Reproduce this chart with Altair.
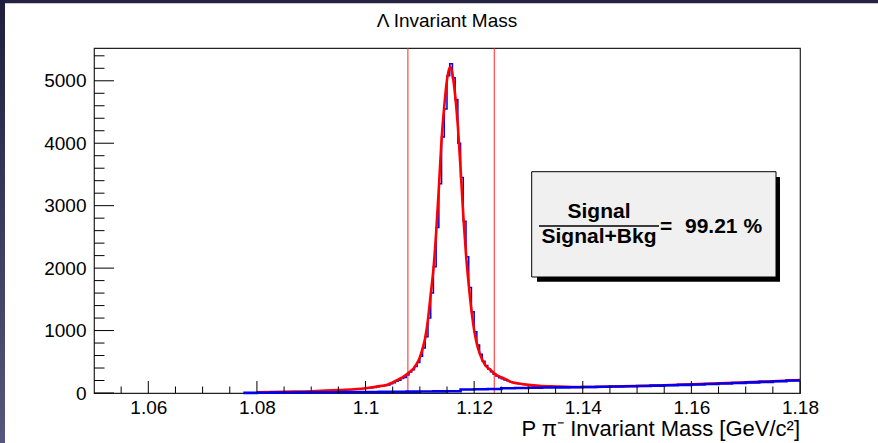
import altair as alt
import pandas as pd

# ---------------- data ----------------
X_DOMAIN = [1.05, 1.18]
Y_DOMAIN = [0, 5525]

x_major = [1.06, 1.08, 1.10, 1.12, 1.14, 1.16, 1.18]
y_major = [0, 1000, 2000, 3000, 4000, 5000]
x_minor_step = 0.005
y_minor_step = 200

# signal window (thin red vertical lines)
window_lo, window_hi = 1.1078, 1.1237

# data histogram (blue), 0.0005 GeV bins starting at 1.100
hist_start, hist_width = 1.1000, 0.0005
hist_counts = [78, 82, 86, 90, 100, 108, 112, 122, 130, 148,
               165, 190, 205, 232, 250, 290, 335, 372, 425, 490,
               590, 720, 900, 1200, 1600, 2020, 2650, 3350, 4100, 4550,
               5080, 5272, 5050, 4700, 4000, 3450, 2750, 2180, 1690, 1300,
               980, 770, 620, 510, 440, 385, 340, 300, 272, 245,
               230, 208, 198, 180, 168, 160, 150, 145, 138, 132,
               128, 122, 118, 116, 112, 110, 106, 104, 102, 100]

# background histogram (thick blue), 0.0025 GeV bins starting at 1.0775
bkg_start, bkg_width = 1.0775, 0.0025
bkg_counts = [2, 4, 6, 8, 10, 11, 12, 14, 15, 16,
              18, 20, 22, 24, 26, 28, 55, 60, 65, 75,
              80, 85, 88, 90, 92, 95, 100, 103, 108, 112,
              118, 123, 130, 137, 145, 152, 160, 170, 178, 188, 200]

# total fit (red curve)
fit_x = [1.080, 1.085, 1.090, 1.095, 1.100, 1.102, 1.104, 1.105, 1.106, 1.107,
         1.108, 1.109, 1.110, 1.1105, 1.111, 1.1115, 1.112, 1.1125, 1.113, 1.1135,
         1.114, 1.1145, 1.115, 1.1156, 1.116, 1.1165, 1.117, 1.1175, 1.118, 1.1185,
         1.119, 1.1195, 1.120, 1.1205, 1.121, 1.122, 1.123, 1.124, 1.125, 1.126,
         1.127, 1.128, 1.130, 1.132, 1.135, 1.140, 1.145, 1.150, 1.155, 1.160,
         1.165, 1.170, 1.175, 1.180]
fit_y = [12, 20, 28, 46, 76, 103, 132, 170, 215, 262,
         328, 410, 570, 710, 890, 1180, 1580, 1980, 2565, 3285,
         4055, 4595, 5015, 5228, 5110, 4772, 4273, 3593, 2845, 2215,
         1736, 1327, 1007, 787, 638, 450, 370, 295, 252, 214,
         170, 155, 130, 115, 105, 95, 102, 112, 125, 138,
         155, 170, 188, 209]

title_text = "Λ Invariant Mass"
x_title_text = "P π⁻ Invariant Mass [GeV/c²]"
ratio_num = "Signal"
ratio_den = "Signal+Bkg"
ratio_val = "99.21 %"

# ---------------- layout ----------------
W, H = 706, 345
FONT = "Liberation Sans"

def step_frame(start, width, counts):
    edges = [round(start + width * i, 5) for i in range(len(counts) + 1)]
    vals = list(counts) + [counts[-1]]
    return pd.DataFrame({"x": edges, "y": vals})

xs = alt.Scale(domain=X_DOMAIN, nice=False, zero=False)
ys = alt.Scale(domain=Y_DOMAIN, nice=False, zero=False)

XAXIS = alt.Axis(values=x_major, labelExpr="format(datum.value, '.2~f')",
                 ticks=False, domain=False, grid=False, title=None,
                 labelFontSize=19, labelPadding=5, labelFont=FONT,
                 labelColor="#000", labelFlush=False)
YAXIS = alt.Axis(values=y_major, format="d", ticks=False, domain=False,
                 grid=False, title=None, labelFontSize=19, labelPadding=8,
                 labelFont=FONT, labelColor="#000")

def X(field):
    return alt.X(field, scale=xs, axis=XAXIS)

def Y(field):
    return alt.Y(field, scale=ys, axis=YAXIS)

n_xmin = int(round((X_DOMAIN[1] - X_DOMAIN[0]) / x_minor_step))
x_minor = [round(X_DOMAIN[0] + x_minor_step * i, 4) for i in range(1, n_xmin)]
x_minor = [v for v in x_minor if all(abs(v - m) > 1e-6 for m in x_major)]
y_minor = [v for v in range(y_minor_step, Y_DOMAIN[1], y_minor_step) if v % 1000]

one = pd.DataFrame({"a": [0]})

# page strips
top_strip = alt.Chart(one).mark_rect(color="#23223f").encode(
    x=alt.value(-94), x2=alt.value(W + 78), y=alt.value(-48), y2=alt.value(-44.7))
left_strip = alt.Chart(one).mark_rect(
    color=alt.LinearGradient(gradient="linear",
                             stops=[alt.GradientStop(color="#1f1f3d", offset=0),
                                    alt.GradientStop(color="#57577d", offset=1)],
                             x1=0, x2=0, y1=0, y2=1)).encode(
    x=alt.value(-94), x2=alt.value(-89), y=alt.value(-48), y2=alt.value(H + 50))

hist = alt.Chart(step_frame(hist_start, hist_width, hist_counts)).mark_line(
    interpolate="step-after", color="#0000ee", strokeWidth=1.5).encode(
    x=X("x:Q"), y=Y("y:Q"))

# inside ticks
xmaj = alt.Chart(pd.DataFrame({"x": x_major})).mark_rule(color="#000", strokeWidth=1).encode(
    x=X("x:Q"), y=alt.value(H), y2=alt.value(H - 12))
xmin = alt.Chart(pd.DataFrame({"x": x_minor})).mark_rule(color="#000", strokeWidth=1).encode(
    x=X("x:Q"), y=alt.value(H), y2=alt.value(H - 6.5))
ymaj = alt.Chart(pd.DataFrame({"y": y_major})).mark_rule(color="#000", strokeWidth=1).encode(
    y=Y("y:Q"), x=alt.value(0), x2=alt.value(20))
ymin = alt.Chart(pd.DataFrame({"y": y_minor})).mark_rule(color="#000", strokeWidth=1).encode(
    y=Y("y:Q"), x=alt.value(0), x2=alt.value(10.5))

window = alt.Chart(pd.DataFrame({"x": [window_lo, window_hi]})).mark_rule(
    color="#ff2020", strokeWidth=1).encode(
    x=X("x:Q"), y=alt.value(0), y2=alt.value(H))

fit = alt.Chart(pd.DataFrame({"x": fit_x, "y": fit_y})).mark_line(
    color="#ff0000", strokeWidth=2.6, interpolate="monotone").encode(
    x=X("x:Q"), y=Y("y:Q"))

bkg = alt.Chart(step_frame(bkg_start, bkg_width, bkg_counts)).mark_line(
    interpolate="step-after", color="#0000ee", strokeWidth=2.6).encode(
    x=X("x:Q"), y=Y("y:Q"))

# text box
shadow = alt.Chart(one).mark_rect(color="#000").encode(
    x=alt.value(443), x2=alt.value(686), y=alt.value(129), y2=alt.value(233.7))
box = alt.Chart(one).mark_rect(fill="#f0f0f0", stroke="#000", strokeWidth=1).encode(
    x=alt.value(437.7), x2=alt.value(682), y=alt.value(123.7), y2=alt.value(229))
frac = alt.Chart(one).mark_rule(color="#000", strokeWidth=1.5).encode(
    x=alt.value(445), x2=alt.value(565), y=alt.value(178), y2=alt.value(178))

def label(txt, x, y, size, align="center", weight="normal"):
    return alt.Chart(pd.DataFrame({"t": [txt]})).mark_text(
        font=FONT, fontSize=size, fontWeight=weight, align=align,
        baseline="alphabetic", color="#000").encode(
        x=alt.value(x), y=alt.value(y), text="t:N")

num = label(ratio_num, 505, 169.7, 21, weight="bold")
den = label(ratio_den, 505, 195.3, 21, weight="bold")
eq = label("=", 566, 185, 21, align="left", weight="bold")
val = label(ratio_val, 591, 184.7, 21, align="left", weight="bold")

title = label(title_text, W / 2, -21.3, 19)
xtitle = label(x_title_text, W, 387.5, 22, align="right")

chart = alt.layer(
    hist, top_strip, left_strip, window, fit, bkg, xmaj, xmin, ymaj, ymin,
    shadow, box, frac, num, den, eq, val, title, xtitle
).properties(
    width=W, height=H,
    autosize=alt.AutoSizeParams(type="none"),
    padding={"left": 94, "top": 48, "right": 78, "bottom": 50},
    background="#ffffff",
).configure_view(stroke="#222", strokeWidth=1.2)

chart.save("out.html", embed_options={"renderer": "svg", "actions": False})
